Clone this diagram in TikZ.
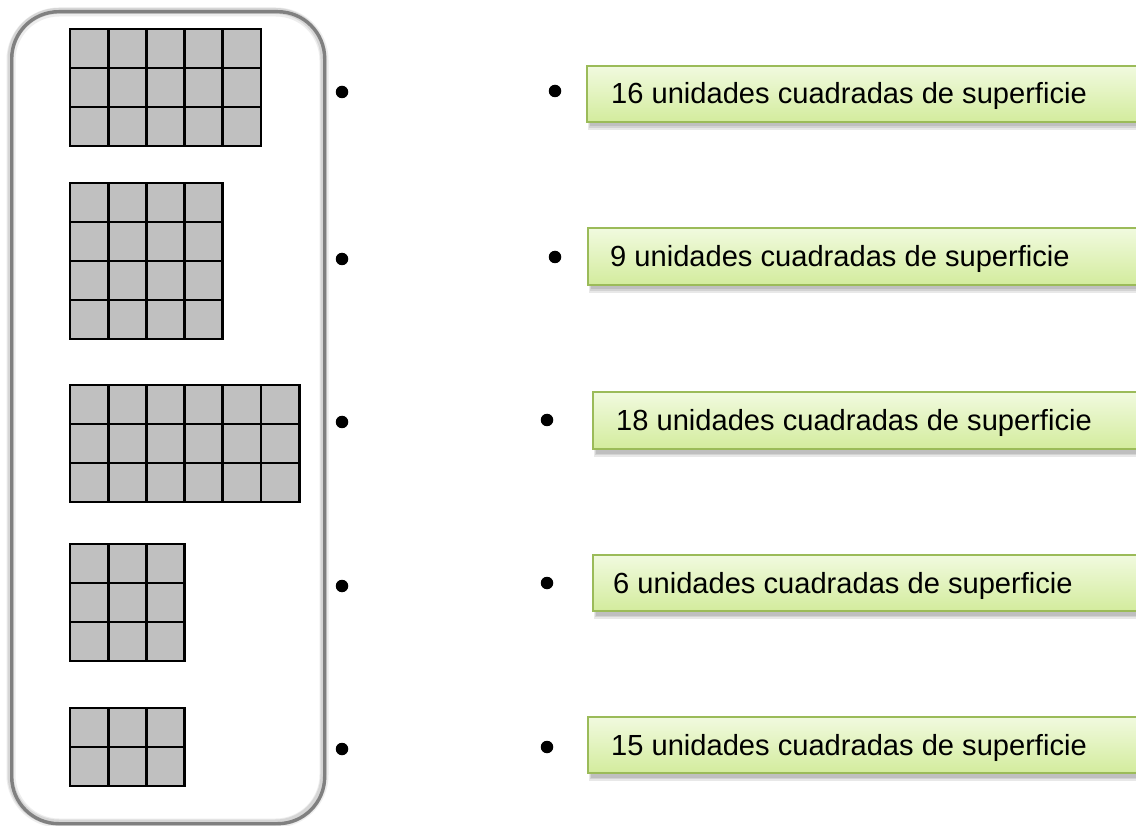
\documentclass[tikz,border=0pt]{standalone}
\usepackage{fontspec}
\setmainfont{Liberation Sans}
\definecolor{cellgray}{HTML}{C0C0C0}
\definecolor{framegray}{HTML}{808080}
\definecolor{gborder}{HTML}{9BBB59}
\definecolor{gtop}{HTML}{F1FADF}
\definecolor{gbot}{HTML}{D3EC9D}
\begin{document}
\begin{tikzpicture}[x=1pt,y=-1pt,
  cell/.style={fill=cellgray,draw=black,line width=2.8pt},
  dotmark/.style={circle,fill=black,inner sep=0pt,minimum size=12.5pt},
  lbl/.style={font=\fontsize{29.1}{31}\selectfont,inner sep=0pt,anchor=base west},
  gbox/.style={draw=gborder,line width=2.6pt,top color=gtop,bottom color=gbot},
  gshadow/.style={fill=black,opacity=0.09}
]
\useasboundingbox (0,0) rectangle (1136,826);
\fill[white] (0,0) rectangle (1136,826);
\clip (0,0) rectangle (1136,826);

% frame with soft shadow
\draw[line width=9pt,black!7,rounded corners=48pt] (11,12) rectangle (324,823);
\draw[line width=6pt,black!16,rounded corners=48pt] (10.5,11) rectangle (323.5,822.5);
\node[draw=framegray,line width=3.4pt,rounded corners=47pt,minimum width=313pt,minimum height=812pt,anchor=north west,inner sep=0pt] (frame) at (10,10) {};

% grids
\newcommand{\mygrid}[4]{%
  \foreach \i in {1,...,#3}{\foreach \j in {1,...,#4}{%
    \draw[cell] ({#1+(\i-1)*38.2},{#2+(\j-1)*39}) rectangle ++(38.2,39);}}}
\mygrid{70}{29}{5}{3}
\mygrid{70}{183}{4}{4}
\mygrid{70}{385}{6}{3}
\mygrid{70}{544}{3}{3}
\mygrid{70}{708}{3}{2}

% left dots
\node[dotmark] (l1) at (342,92) {};
\node[dotmark] (l2) at (342,259) {};
\node[dotmark] (l3) at (342,422) {};
\node[dotmark] (l4) at (342,586) {};
\node[dotmark] (l5) at (342,749) {};
% right dots
\node[dotmark] (r1) at (555,91) {};
\node[dotmark] (r2) at (555,257) {};
\node[dotmark] (r3) at (547,420) {};
\node[dotmark] (r4) at (547,583) {};
\node[dotmark] (r5) at (547,747) {};

% green boxes
\foreach \x/\yt/\yb in {587/66/122, 588/228/285, 593/392/449, 593/555/611, 588/717/773}{
  \fill[gshadow] (\x+1,\yt+3) rectangle (1150,\yb+8);
  \fill[gshadow] (\x+2,\yt+4) rectangle (1150,\yb+6);
  \fill[gshadow] (\x+3,\yt+5) rectangle (1150,\yb+4.5);
  \path[gbox] (\x,\yt) rectangle (1150,\yb);
}

% labels
\node[lbl] (t1) at (611,104) {16 unidades cuadradas de superficie};
\node[lbl] (t2) at (610,267) {9 unidades cuadradas de superficie};
\node[lbl] (t3) at (616,431) {18 unidades cuadradas de superficie};
\node[lbl] (t4) at (613,593) {6 unidades cuadradas de superficie};
\node[lbl] (t5) at (611,755) {15 unidades cuadradas de superficie};
\end{tikzpicture}
\end{document}
